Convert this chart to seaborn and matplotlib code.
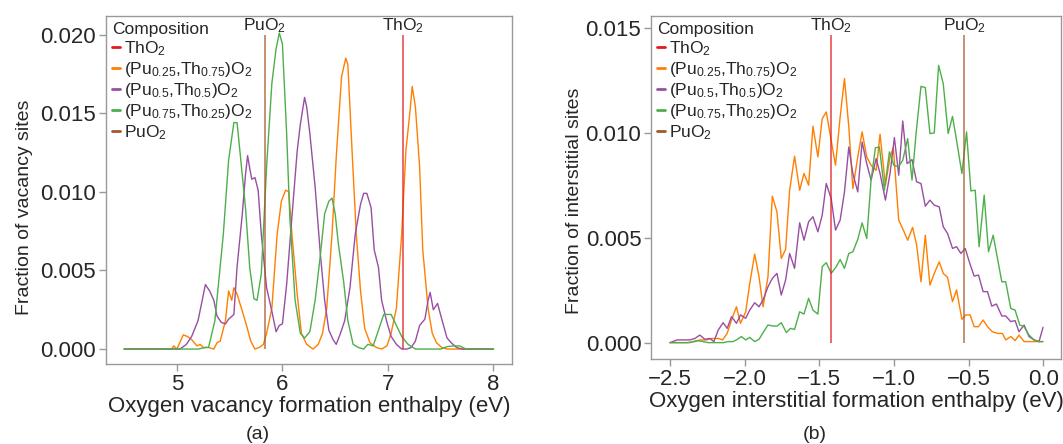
import numpy as np
import pandas as pd
import matplotlib
matplotlib.use("Agg")
import matplotlib.pyplot as plt
from matplotlib.lines import Line2D
import seaborn as sns

# ---------------- data ----------------
comp_labels = ["ThO2", "(Pu0.25,Th0.75)O2", "(Pu0.5,Th0.5)O2", "(Pu0.75,Th0.25)O2", "PuO2"]
comp_tex = [r"ThO$_2$", r"(Pu$_{0.25}$,Th$_{0.75}$)O$_2$", r"(Pu$_{0.5}$,Th$_{0.5}$)O$_2$",
            r"(Pu$_{0.75}$,Th$_{0.25}$)O$_2$", r"PuO$_2$"]
comp_colors = ["#e41a1c", "#ff7f00", "#984ea3", "#4daf4a", "#a65628"]

# (a) vacancy formation enthalpy
vac_x_25 = [4.50, 4.95, 4.97, 5.00, 5.06, 5.10, 5.14, 5.19, 5.22, 5.25, 5.30, 5.35, 5.38, 5.41, 5.46, 5.49,
            5.52, 5.54, 5.57, 5.62, 5.66, 5.70, 5.74, 5.78, 5.82, 5.85, 5.90, 5.95, 5.99, 6.03, 6.06, 6.09,
            6.14, 6.18, 6.23, 6.29, 6.34, 6.38, 6.42, 6.47, 6.51, 6.56, 6.60, 6.62, 6.66, 6.70, 6.74, 6.78,
            6.83, 6.89, 6.94, 6.99, 7.03, 7.08, 7.13, 7.17, 7.21, 7.23, 7.26, 7.30, 7.33, 7.38, 7.42, 7.46,
            7.51, 7.56, 8.00]
vac_y_25 = [0.0, 0.0, 0.0002, 0.0, 0.0009, 0.0008, 0.0006, 0.0002, 0.0003, 0.0001, 0.0001, 0.0, 0.0004, 0.0005,
            0.0018, 0.0037, 0.0031, 0.0039, 0.0035, 0.0024, 0.0015, 0.0005, 0.0, 0.0001, 0.0003, 0.0010, 0.0026,
            0.0073, 0.0094, 0.0101, 0.0100, 0.0073, 0.0035, 0.0010, 0.0003, 0.0, 0.0003, 0.0010, 0.0026, 0.0073,
            0.0122, 0.0173, 0.0185, 0.0181, 0.0126, 0.0073, 0.0037, 0.0013, 0.0004, 0.0001, 0.0, 0.0002, 0.0010,
            0.0026, 0.0073, 0.0126, 0.0152, 0.0167, 0.0154, 0.0116, 0.0063, 0.0026, 0.0010, 0.0004, 0.0001,
            0.0, 0.0]

vac_x_50 = [4.50, 5.03, 5.09, 5.14, 5.20, 5.24, 5.27, 5.31, 5.35, 5.38, 5.42, 5.46, 5.49, 5.54, 5.57, 5.62,
            5.65, 5.67, 5.69, 5.71, 5.74, 5.77, 5.80, 5.85, 5.90, 5.94, 5.97, 6.00, 6.04, 6.09, 6.14, 6.17,
            6.21, 6.23, 6.26, 6.31, 6.36, 6.40, 6.44, 6.48, 6.51, 6.55, 6.59, 6.64, 6.69, 6.74, 6.77, 6.80,
            6.84, 6.87, 6.91, 6.94, 6.99, 7.03, 7.08, 7.13, 7.18, 7.22, 7.26, 7.30, 7.35, 7.38, 7.40, 7.43,
            7.47, 7.51, 7.56, 7.60, 7.65, 7.70, 8.00]
vac_y_50 = [0.0, 0.0, 0.0003, 0.0008, 0.0018, 0.0031, 0.0041, 0.0037, 0.0031, 0.0021, 0.0017, 0.0016, 0.0019,
            0.0022, 0.0052, 0.0086, 0.0111, 0.0123, 0.0115, 0.0108, 0.0109, 0.0101, 0.0073, 0.0039, 0.0024,
            0.0011, 0.0015, 0.0016, 0.0041, 0.0084, 0.0126, 0.0143, 0.0160, 0.0154, 0.0137, 0.0103, 0.0060,
            0.0031, 0.0012, 0.0006, 0.0003, 0.0010, 0.0018, 0.0039, 0.0073, 0.0092, 0.0099, 0.0099, 0.0090,
            0.0063, 0.0052, 0.0031, 0.0017, 0.0008, 0.0003, 0.0, 0.0, 0.0001, 0.0005, 0.0015, 0.0019, 0.0031,
            0.0036, 0.0025, 0.0029, 0.0019, 0.0007, 0.0004, 0.0001, 0.0, 0.0]

vac_x_75 = [4.50, 5.20, 5.27, 5.30, 5.36, 5.44, 5.49, 5.54, 5.57, 5.60, 5.65, 5.69, 5.73, 5.76, 5.80, 5.85,
            5.90, 5.94, 5.97, 6.00, 6.04, 6.07, 6.12, 6.17, 6.21, 6.26, 6.31, 6.36, 6.40, 6.44, 6.47, 6.50,
            6.53, 6.58, 6.62, 6.67, 6.72, 6.77, 6.81, 6.86, 6.91, 6.96, 7.00, 7.03, 7.08, 7.13, 7.19, 7.26,
            7.50, 7.56, 7.62, 7.68, 7.74, 8.00]
vac_y_75 = [0.0, 0.0, 0.0001, 0.0001, 0.0018, 0.0073, 0.0120, 0.0144, 0.0144, 0.0124, 0.0090, 0.0052, 0.0032,
            0.0031, 0.0048, 0.0116, 0.0169, 0.0191, 0.0201, 0.0194, 0.0137, 0.0084, 0.0031, 0.0010, 0.0007,
            0.0011, 0.0031, 0.0060, 0.0086, 0.0094, 0.0096, 0.0086, 0.0067, 0.0043, 0.0018, 0.0003, 0.0001,
            0.0, 0.0003, 0.0002, 0.0012, 0.0022, 0.0022, 0.0022, 0.0015, 0.0008, 0.0003, 0.0, 0.0, 0.00015,
            0.0002, 0.0002, 0.0, 0.0]

vac_pure_x = [7.145, 5.833]        # ThO2, PuO2
vac_pure_top = 0.0200

# (b) interstitial formation enthalpy
int_x_25 = [-2.500, -2.389, -2.333, -2.300, -2.255, -2.222, -2.177, -2.148, -2.117, -2.088, -2.055, -2.028,
            -1.993, -1.966, -1.933, -1.904, -1.877, -1.844, -1.815, -1.784, -1.755, -1.726, -1.699, -1.666,
            -1.632, -1.603, -1.572, -1.543, -1.510, -1.481, -1.454, -1.421, -1.392, -1.361, -1.332, -1.303,
            -1.276, -1.243, -1.214, -1.183, -1.154, -1.120, -1.094, -1.058, -1.027, -1.005, -0.969, -0.938,
            -0.909, -0.876, -0.849, -0.820, -0.791, -0.760, -0.731, -0.698, -0.671, -0.642, -0.609, -0.582,
            -0.546, -0.520, -0.491, -0.464, -0.435, -0.404, -0.375, -0.342, -0.308, -0.275, -0.253, -0.219,
            -0.190, -0.164, -0.130, -0.097, -0.008]
int_y_25 = [0.0, 0.0, 0.00005, 0.00013, 0.00013, 0.0002, 0.0002, 0.00013, 0.00044, 0.00108, 0.00171, 0.00092,
            0.00147, 0.00282, 0.00422, 0.00314, 0.00171, 0.00314, 0.00698, 0.00623, 0.00401, 0.00444, 0.00726,
            0.00888, 0.00726, 0.00806, 0.0075, 0.01031, 0.00885, 0.01067, 0.01099, 0.00964, 0.00845, 0.01075,
            0.01258, 0.01028, 0.00734, 0.00885, 0.01004, 0.00885, 0.00845, 0.00821, 0.00993, 0.0075, 0.00885,
            0.00929, 0.00584, 0.00536, 0.00488, 0.00549, 0.00465, 0.0029, 0.00512, 0.00274, 0.0033, 0.00385,
            0.0033, 0.00311, 0.00195, 0.00251, 0.00111, 0.00132, 0.00132, 0.00076, 0.00076, 0.00108, 0.00076,
            0.00052, 0.00044, 0.00044, 0.00013, 0.00029, 0.0001, 0.00036, 0.00005, 0.00005, 0.00005]

int_x_50 = [-2.500, -2.451, -2.411, -2.366, -2.333, -2.300, -2.266, -2.233, -2.206, -2.177, -2.144, -2.117,
            -2.088, -2.055, -2.028, -1.993, -1.966, -1.933, -1.904, -1.877, -1.844, -1.815, -1.784, -1.755,
            -1.726, -1.699, -1.666, -1.632, -1.603, -1.572, -1.543, -1.510, -1.481, -1.454, -1.421, -1.392,
            -1.361, -1.332, -1.303, -1.276, -1.243, -1.214, -1.183, -1.154, -1.120, -1.094, -1.058, -1.027,
            -0.998, -0.969, -0.942, -0.913, -0.880, -0.849, -0.820, -0.791, -0.760, -0.731, -0.698, -0.671,
            -0.642, -0.609, -0.582, -0.553, -0.524, -0.493, -0.464, -0.435, -0.404, -0.375, -0.346, -0.315,
            -0.279, -0.253, -0.219, -0.190, -0.164, -0.130, -0.097, -0.063, -0.030, -0.003]
int_y_50 = [0.0, 0.00013, 0.00013, 0.00013, 0.0002, 0.00036, 0.00016, 0.0002, 0.00005, 0.0006, 0.00095, 0.00068,
            0.00124, 0.00092, 0.00132, 0.00116, 0.00155, 0.0019, 0.00171, 0.00203, 0.00266, 0.00306, 0.0033,
            0.00227, 0.00298, 0.00425, 0.00354, 0.00571, 0.00488, 0.00576, 0.006, 0.00528, 0.00607, 0.00758,
            0.00687, 0.00536, 0.00584, 0.00718, 0.00932, 0.00806, 0.00718, 0.00956, 0.00853, 0.00774, 0.00877,
            0.00806, 0.00679, 0.00806, 0.00977, 0.00798, 0.01056, 0.00853, 0.00872, 0.00766, 0.00758, 0.0065,
            0.00679, 0.00655, 0.00647, 0.00552, 0.0052, 0.00449, 0.00457, 0.00425, 0.00449, 0.00377, 0.00317,
            0.00322, 0.00243, 0.00243, 0.00174, 0.00184, 0.00127, 0.00127, 0.001, 0.00105, 0.00052, 0.00084,
            0.00029, 0.00013, 0.00005, 0.00073]

int_x_75 = [-2.500, -2.366, -2.322, -2.277, -2.244, -2.188, -2.144, -2.111, -2.078, -2.055, -2.022, -1.993,
            -1.966, -1.933, -1.904, -1.873, -1.844, -1.810, -1.783, -1.755, -1.721, -1.694, -1.666, -1.632,
            -1.603, -1.572, -1.543, -1.510, -1.481, -1.454, -1.421, -1.387, -1.361, -1.332, -1.303, -1.276,
            -1.243, -1.214, -1.183, -1.154, -1.125, -1.098, -1.065, -1.031, -1.002, -0.971, -0.942, -0.909,
            -0.880, -0.853, -0.820, -0.791, -0.760, -0.731, -0.702, -0.671, -0.638, -0.609, -0.582, -0.546,
            -0.515, -0.486, -0.457, -0.431, -0.397, -0.368, -0.337, -0.308, -0.279, -0.253, -0.219, -0.190,
            -0.159, -0.130, -0.097, -0.063, -0.030, -0.003]
int_y_75 = [0.0, 0.0, 0.0001, 0.00005, 0.0, 0.0, 0.0, 0.00005, 0.00005, 0.00013, 0.00029, 0.00013, 0.00025,
            0.00005, 0.00016, 0.00052, 0.00084, 0.00079, 0.00079, 0.00095, 0.00048, 0.00068, 0.00063, 0.00147,
            0.00136, 0.00211, 0.00155, 0.00136, 0.00362, 0.00381, 0.0033, 0.00362, 0.00396, 0.00354, 0.00425,
            0.00433, 0.00492, 0.00571, 0.00496, 0.00774, 0.00928, 0.00932, 0.00726, 0.00909, 0.00845, 0.00837,
            0.00869, 0.00972, 0.00774, 0.00996, 0.01221, 0.01215, 0.00996, 0.00999, 0.01321, 0.01234, 0.00996,
            0.01078, 0.00964, 0.00806, 0.01004, 0.00723, 0.00726, 0.00457, 0.00703, 0.00433, 0.00512, 0.00401,
            0.0029, 0.0029, 0.00163, 0.00155, 0.00084, 0.00076, 0.00036, 0.00013, 0.00005, 0.00005]

int_pure_x = [-1.419, -0.531]      # ThO2, PuO2
int_pure_top = 0.01464

# ---------------- style ----------------
sns.set_theme(style="white")
plt.rcParams["font.family"] = ["Liberation Sans", "DejaVu Sans"]
plt.rcParams["mathtext.fontset"] = "custom"
plt.rcParams["mathtext.rm"] = "Liberation Sans"
plt.rcParams["mathtext.it"] = "Liberation Sans:italic"
plt.rcParams["axes.unicode_minus"] = True

fig = plt.figure(figsize=(10.63, 4.44), dpi=100)
axA = fig.add_axes([0.0994, 0.1802, 0.3822, 0.7838])
axB = fig.add_axes([0.6124, 0.1914, 0.3857, 0.7725])


def make_df(xs, ys):
    rows = []
    for lab, x, y in zip(comp_labels[1:4], xs, ys):
        rows.append(pd.DataFrame({"x": x, "y": y, "comp": lab}))
    return pd.concat(rows, ignore_index=True)


def draw(ax, xs, ys, pure_x, pure_top, xlim, ylim, yticks, xticks, xticklabels, ylabel, xlabel,
         ylab_x, ylab_y):
    df = make_df(xs, ys)
    pal = dict(zip(comp_labels, comp_colors))
    sns.lineplot(data=df, x="x", y="y", hue="comp", palette=pal, sort=False, estimator=None,
                 linewidth=1.0, ax=ax, legend=False)
    # pure compounds as vertical lines
    for px, lab, col in zip(pure_x, ["ThO2", "PuO2"], [comp_colors[0], comp_colors[4]]):
        ax.vlines(px, 0, pure_top, color=col, alpha=0.7, linewidth=1.3)
        ax.text(px, pure_top, lab.replace("2", "$_2$"), ha="center", va="bottom", fontsize=12.5)
    ax.set_xlim(*xlim)
    ax.set_ylim(*ylim)
    ax.set_yticks(yticks)
    ax.set_yticklabels([f"{v:.3f}" for v in yticks])
    ax.set_xticks(xticks)
    ax.set_xticklabels(xticklabels)
    ax.set_ylabel(ylabel, fontsize=14)
    ax.yaxis.set_label_coords(ylab_x, ylab_y)
    ax.set_xlabel(xlabel, fontsize=16, labelpad=1)
    ax.tick_params(axis="both", which="major", length=5, width=1, color="#999999",
                   labelsize=16, pad=2, bottom=True, left=True)
    for s in ax.spines.values():
        s.set_color("#999999")
        s.set_linewidth(1.0)
    handles = [Line2D([0], [0], color=c, linewidth=2) for c in comp_colors]
    leg = ax.legend(handles, comp_tex, title="Composition", loc="upper left", frameon=False,
                    fontsize=12.5, title_fontsize=12.5, handlelength=0.45, handletextpad=0.25,
                    labelspacing=0.12, borderaxespad=0.3, borderpad=0.05)
    leg._legend_box.align = "left"


draw(axA, [vac_x_25, vac_x_50, vac_x_75], [vac_y_25, vac_y_50, vac_y_75], vac_pure_x, vac_pure_top,
     (4.325, 8.175), (-0.00095, 0.02118), [0.0, 0.005, 0.010, 0.015, 0.020], [5, 6, 7, 8],
     ["5", "6", "7", "8"], "Fraction of vacancy sites", "Oxygen vacancy formation enthalpy (eV)",
     -0.18, 0.45)
draw(axB, [int_x_25, int_x_50, int_x_75], [int_y_25, int_y_50, int_y_75], int_pure_x, int_pure_top,
     (-2.627, 0.117), (-0.00078, 0.01556), [0.0, 0.005, 0.010, 0.015], [-2.5, -2.0, -1.5, -1.0, -0.5, 0.0],
     ["\u22122.5", "\u22122.0", "\u22121.5", "\u22121.0", "\u22120.5", "0.0"],
     "Fraction of interstitial sites", "Oxygen interstitial formation enthalpy (eV)", -0.165, 0.46)

fig.text(258 / 1063, 1 - 434 / 444, "(a)", ha="center", va="center", fontsize=14)
fig.text(815 / 1063, 1 - 434 / 444, "(b)", ha="center", va="center", fontsize=14)

fig.savefig("out.png", dpi=100)
